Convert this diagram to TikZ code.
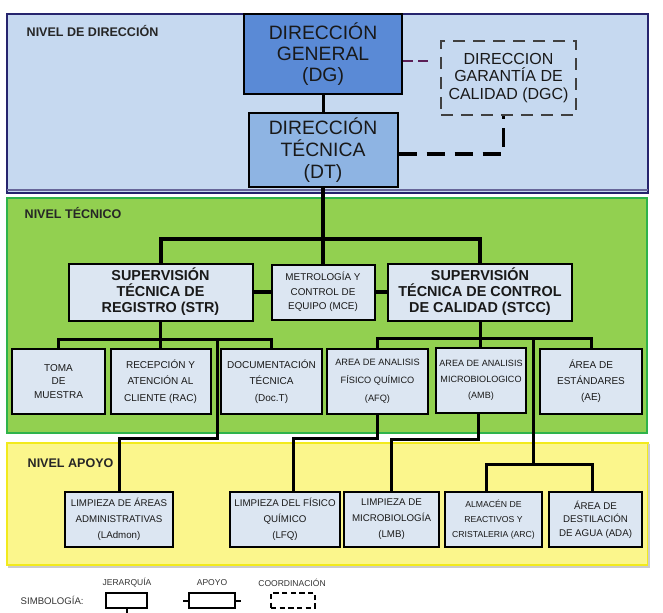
\documentclass[tikz,border=0pt]{standalone}
\usepackage{fontspec}
\setmainfont{Liberation Sans}
\usepackage{tikz}
\definecolor{fdir}{HTML}{C6D9F0}
\definecolor{ldir}{HTML}{26246E}
\definecolor{fdg}{HTML}{5A8AD6}
\definecolor{fdt}{HTML}{8EB4E3}
\definecolor{ftec}{HTML}{92D050}
\definecolor{ltec}{HTML}{2FB34A}
\definecolor{fapo}{HTML}{FBF68C}
\definecolor{lapo}{HTML}{F2EA1C}
\definecolor{fcaja}{HTML}{DCE6F2}
\definecolor{morado}{HTML}{5B1F56}
\newcommand\fs[2]{\fontsize{#1}{#2}\selectfont}

\tikzset{
caja/.style={draw, line width=1.5pt, fill=fcaja, align=center, inner sep=0pt, text=black!90},
hijo/.style={caja, minimum height=48.75pt, font=\fs{7.5}{12.3}},
apoyo/.style={caja, minimum height=41.25pt, font=\fs{7.3}{12}},
nivel/.style={anchor=base west, font=\bfseries\fs{9.4}{11}, text=black!85},
jer/.style={line width=2.25pt},
ley/.style={font=\fs{6.4}{7}, text=black!80},
}

\begin{document}
\begin{tikzpicture}[x=0.75pt, y=-0.75pt]
\useasboundingbox (0,0) rectangle (663,613);
% niveles
\filldraw[fill=fdir, draw=ldir, line width=1.2pt] (7,14) rectangle (648,193);
\draw[ldir!70, line width=0.8pt] (7,190) -- (648,190);
\filldraw[fill=ftec, draw=ltec, line width=1.5pt] (7,198) rectangle (647,433);
\filldraw[fill=fapo, draw=lapo, line width=1.5pt] (7,443) rectangle (648,565);
\draw[black!20, line width=1.5pt] (8,566.5) -- (649,566.5) -- (649,444);
\node[nivel] (nD) at (22,37) {NIVEL DE DIRECCIÓN};
\node[nivel] (nT) at (20,218) {NIVEL TÉCNICO};
\node[nivel] (nA) at (23,467) {NIVEL APOYO};

% direccion
\node[caja, fill=fdg, line width=1.2pt, minimum width=118.5pt, minimum height=60pt, font=\fs{14.5}{15.5}] (DG) at (323,54) {DIRECCIÓN\\GENERAL\\(DG)};
\node[caja, fill=fdt, minimum width=111.75pt, minimum height=55.5pt, font=\fs{14.5}{16.5}] (DT) at (323,150) {DIRECCIÓN\\TÉCNICA\\(DT)};
\node[caja, fill=none, draw=black!75, line width=1.1pt, dash pattern=on 9pt off 6pt, minimum width=101.25pt, minimum height=55.5pt, font=\fs{12}{13}] (DGC) at (508.5,78) {DIRECCION\\GARANTÍA DE\\CALIDAD (DGC)};

% tecnico
\node[caja, minimum width=138pt, minimum height=42.75pt, font=\bfseries\fs{10.8}{12}] (STR) at (160.5,292) {SUPERVISIÓN\\TÉCNICA DE\\REGISTRO (STR)};
\node[caja, minimum width=77.25pt, minimum height=41.25pt, font=\fs{7.4}{11}] (MCE) at (323,292) {METROLOGÍA Y\\CONTROL DE\\EQUIPO (MCE)};
\node[caja, minimum width=138pt, minimum height=42.75pt, font=\bfseries\fs{10.8}{12}] (STCC) at (480,292) {SUPERVISIÓN\\TÉCNICA DE CONTROL\\DE CALIDAD (STCC)};

\node[hijo, minimum width=69.75pt, font=\fs{7.5}{10}] (TOMA) at (58.5,381.5) {TOMA\\DE\\MUESTRA};
\node[hijo, minimum width=75pt] (RAC) at (160.5,381.5) {RECEPCIÓN Y\\ATENCIÓN AL\\CLIENTE (RAC)};
\node[hijo, minimum width=75.75pt] (DOC) at (271.5,381.5) {DOCUMENTACIÓN\\TÉCNICA\\(Doc.T)};
\node[hijo, minimum width=75.75pt, font=\fs{6.9}{13.5}] (AFQ) at (377.5,381.5) {AREA DE ANALISIS\\FÍSICO QUÍMICO\\(AFQ)};
\node[hijo, minimum width=67.5pt, font=\fs{6.8}{12}] (AMB) at (481,380) {AREA DE ANALISIS\\MICROBIOLOGICO\\(AMB)};
\node[hijo, minimum width=76.5pt, font=\fs{7.5}{12}] (AE) at (591,381.5) {ÁREA DE\\ESTÁNDARES\\(AE)};

% apoyo
\node[apoyo, minimum width=81pt] (LAdmon) at (119,519.5) {LIMPIEZA DE ÁREAS\\ADMINISTRATIVAS\\(LAdmon)};
\node[apoyo, minimum width=82.5pt] (LFQ) at (285,519.5) {LIMPIEZA DEL FÍSICO\\QUÍMICO\\(LFQ)};
\node[apoyo, minimum width=71.25pt] (LMB) at (391.5,519.5) {LIMPIEZA DE\\MICROBIOLOGÍA\\(LMB)};
\node[apoyo, minimum width=72.75pt, font=\fs{6.5}{11.5}] (ARC) at (493.5,519.5) {ALMACÉN DE\\REACTIVOS Y\\CRISTALERIA (ARC)};
\node[apoyo, minimum width=69.75pt, font=\fs{7.3}{10}] (ADA) at (595.5,519.5) {ÁREA DE\\DESTILACIÓN\\DE AGUA (ADA)};

% conexiones
\draw[jer] (DG.south) -- (DT.north);
\coordinate (bus) at (323,239);
\draw[jer, line width=3pt] (STR.north) |- (bus) -| (STCC.north);
\draw[jer, line width=3pt] (DT.south) -- (MCE.north);
\draw[jer, line width=3pt] (STR.east) -- (MCE.west);
\draw[jer, line width=3pt] (MCE.east) -- (STCC.west);

\draw[jer] (STR.south) -- ++(0,17.5) coordinate (bR);
\draw[jer] (TOMA.north) |- (bR) -| (DOC.north);
\draw[jer] (bR) -- (RAC.north);
\draw[jer] (STCC.south) -- ++(0,16.5) coordinate (bC);
\draw[jer] (AFQ.north) |- (bC) -| (AE.north);
\draw[jer] (bC) -- (bC |- AMB.north);

\coordinate (jAd) at (217,338);
\draw[jer] (jAd) -- ++(0,100) -| (LAdmon.north);
\draw[jer] (AFQ.south) -- ++(0,23) -| ([xshift=6pt]LFQ.north);
\draw[jer] ([xshift=-2pt]AMB.south) -- ++(0,26) -| (LMB.north);
\coordinate (jAr) at (533,337);
\draw[jer] (jAr) -- ++(0,127) coordinate (bA);
\draw[jer] ([xshift=-5pt]ARC.north) |- (bA) -| ([xshift=-2pt]ADA.north);

\coordinate (pm) at (428,61);
\draw[morado, line width=2.2pt, dash pattern=on 8pt off 3.75pt] (DG.east |- pm) -- (pm);
\draw[line width=2.25pt, dash pattern=on 14pt off 7pt] ([yshift=-3pt]DT.east) -| ([xshift=-4pt]DGC.south);

% simbologia
\node[anchor=west, font=\fs{7.2}{8}, text=black!80] (sim) at (16,600) {SIMBOLOGÍA:};
\node[ley] (tJ) at (127,583) {JERARQUÍA};
\node[ley] (tA) at (212,583) {APOYO};
\node[ley] (tC) at (292,583) {COORDINACIÓN};
\node[draw, line width=1.5pt, minimum width=30.75pt, minimum height=11.25pt, inner sep=0pt] (lJ) at (126.5,600.5) {};
\draw[line width=1.5pt] (lJ.south) -- ++(0,5);
\node[draw, line width=1.5pt, minimum width=34.5pt, minimum height=11.25pt, inner sep=0pt] (lA) at (212,600.5) {};
\draw[line width=1.5pt] (lA.west) -- ++(-5,0) (lA.east) -- ++(5,0);
\node[draw, line width=1.5pt, dash pattern=on 4pt off 2.5pt, minimum width=33pt, minimum height=11.25pt, inner sep=0pt] (lC) at (293,600.5) {};
\end{tikzpicture}
\end{document}
